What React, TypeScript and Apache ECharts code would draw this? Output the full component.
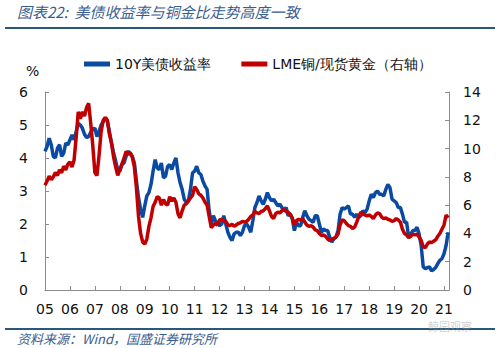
import React, { useEffect, useRef } from "react";
import * as echarts from "echarts";

const startYear = 2005;
const yearLabels = ["05", "06", "07", "08", "09", "10", "11", "12", "13", "14", "15", "16", "17", "18", "19", "20", "21"];

// 10Y US Treasury yield (%), monthly Jan 2005 - Mar 2021
const yieldValues = [
  4.2, 4.35, 4.6, 4.4, 4.05, 4.0, 4.3, 4.4, 4.05, 4.15, 4.45, 4.4,
  4.55, 4.7, 4.55, 4.8, 5.05, 5.0, 4.9, 4.72, 4.62, 4.65, 4.78, 4.88,
  4.9, 4.65, 4.8, 5.0, 5.1, 5.22, 5.12, 4.8, 4.45, 4.15, 3.9, 3.65,
  3.6, 3.8, 3.85, 4.05, 4.2, 4.15, 4.05, 3.85, 3.3, 2.8, 2.45, 2.2,
  2.55, 2.85, 2.95, 3.2, 3.6, 3.95, 3.7, 3.65, 3.85, 3.4, 3.45, 3.75,
  3.8, 3.65, 3.85, 4.0, 3.55, 3.25, 3.05, 2.75, 2.65, 2.7, 3.05, 3.55,
  3.6, 3.75, 3.55, 3.5, 3.3, 3.15, 3.05, 2.4, 2.0, 2.25, 2.1, 2.0,
  1.95, 2.0, 2.25, 2.0, 1.75, 1.6, 1.5, 1.7, 1.75, 1.75, 1.65, 1.75,
  1.95, 2.0, 1.9, 1.75, 2.1, 2.5, 2.65, 2.85, 2.7, 2.6, 2.75, 2.95,
  2.8, 2.7, 2.75, 2.65, 2.55, 2.6, 2.5, 2.4, 2.5, 2.25, 2.3, 2.15,
  1.8, 2.05, 1.95, 1.95, 2.2, 2.4, 2.25, 2.15, 2.1, 2.05, 2.25, 2.25,
  2.0, 1.75, 1.85, 1.8, 1.8, 1.6, 1.45, 1.55, 1.6, 1.8, 2.3, 2.5,
  2.45, 2.5, 2.55, 2.3, 2.3, 2.2, 2.3, 2.2, 2.25, 2.4, 2.35, 2.45,
  2.7, 2.9, 2.8, 2.95, 3.0, 2.9, 2.9, 2.85, 3.05, 3.2, 3.1, 2.75,
  2.7, 2.65, 2.5, 2.5, 2.3, 2.05, 2.05, 1.6, 1.7, 1.8, 1.8, 1.9,
  1.7, 1.35, 0.7, 0.65, 0.68, 0.7, 0.58, 0.62, 0.68, 0.8, 0.9, 0.95,
  1.1, 1.35, 1.75,
];

// LME copper / spot gold (right axis), monthly Jan 2005 - Mar 2021
const copperGoldValues = [
  7.4, 7.7, 8.05, 7.8, 8.0, 8.3, 8.1, 8.5, 8.3, 8.75, 8.5, 8.9,
  9.05, 8.7, 9.2, 10.8, 12.6, 12.1, 12.6, 12.3, 12.9, 13.2, 11.8, 10.2,
  8.3, 8.1, 9.5, 11.2, 12.0, 12.2, 12.0, 11.0, 10.4, 9.4, 8.7, 8.1,
  8.5, 8.9, 9.3, 9.8, 9.6, 9.7, 9.4, 8.7, 7.2, 5.2, 4.0, 3.4,
  3.25, 3.6, 4.5, 5.1, 5.9, 6.2, 6.6, 6.5, 6.0, 6.4, 6.1, 6.0,
  6.6, 6.3, 6.5, 6.2, 5.4, 5.1, 5.6, 6.0, 6.1, 6.3, 6.5, 6.7,
  7.3, 7.1, 6.8, 6.7, 6.5, 6.2, 6.0, 5.2, 4.4, 4.6, 4.7, 4.6,
  4.95, 5.0, 4.9, 4.85, 4.6, 4.55, 4.65, 4.5, 4.6, 4.7, 4.75, 4.85,
  4.8, 4.85, 5.0, 5.2, 5.3, 5.55, 5.45, 5.4, 5.55, 5.6, 5.75, 5.95,
  5.6, 5.2, 5.05, 5.4, 5.5, 5.45, 5.6, 5.7, 5.55, 5.5, 5.35, 5.1,
  4.6, 4.9, 5.0, 4.95, 5.05, 4.8, 4.6, 4.5, 4.55, 4.45, 4.25, 4.2,
  4.0, 3.85, 3.9, 3.8, 3.6, 3.5, 3.6, 3.65, 3.75, 3.95, 4.6, 4.95,
  4.9, 4.7, 4.55, 4.5, 4.35, 4.45, 4.8, 5.2, 5.5, 5.4, 5.3, 5.25,
  5.3, 5.2, 5.05, 5.3, 5.45, 5.4, 5.15, 5.05, 5.1, 5.0, 4.95, 4.85,
  4.9, 5.05, 4.95, 4.8, 4.3, 4.0, 3.9, 3.7, 3.8, 3.95, 3.9, 3.95,
  3.75, 3.5, 3.05, 3.0, 3.25, 3.4, 3.35, 3.45, 3.55, 3.8, 4.0, 4.3,
  4.6, 5.3, 5.1,
];

const leftTicks = { min: 0, max: 6, interval: 1 };
const rightTicks = { min: 0, max: 14, interval: 2 };

const seriesNames = ["10Y美债收益率", "LME铜/现货黄金（右轴）"];

export default function App() {
  const ref = useRef<HTMLDivElement>(null);
  useEffect(() => {
    if (!ref.current) return;
    const chart = echarts.init(ref.current, null, { renderer: "svg" });
    const toPairs = (vals: number[]) => vals.map((v, i) => [startYear + i / 12, v]);
    const axisColor = "#8c8c8c";
    const labelFont = "DejaVu Sans";
    chart.setOption({
      animation: false,
      backgroundColor: "#ffffff",
      grid: { left: 45, right: 51, top: 92, bottom: 58, containLabel: false },
      legend: {
        left: 79,
        top: 52,
        itemWidth: 26,
        itemHeight: 5,
        itemGap: 30,
        icon: "rect",
        textStyle: { fontSize: 14, color: "#111", fontFamily: labelFont },
        data: seriesNames,
      },
      xAxis: {
        type: "value",
        min: startYear,
        max: 2021.2,
        interval: 1,
        splitLine: { show: false },
        axisLine: { show: true, lineStyle: { color: axisColor, width: 1 } },
        axisTick: { show: true, inside: true, length: 4, lineStyle: { color: axisColor } },
        axisLabel: {
          fontSize: 14,
          color: "#111",
          fontFamily: labelFont,
          margin: 12,
          showMaxLabel: false,
          formatter: (v: number) => {
            const idx = Math.round(v) - startYear;
            return Math.abs(v - Math.round(v)) < 1e-6 ? yearLabels[idx] ?? "" : "";
          },
        },
      },
      yAxis: [
        {
          type: "value",
          ...leftTicks,
          splitLine: { show: false },
          axisLine: { show: true, lineStyle: { color: axisColor } },
          axisTick: { show: true, inside: true, length: 4, lineStyle: { color: axisColor } },
          axisLabel: { fontSize: 14, color: "#111", fontFamily: labelFont, margin: 17 },
        },
        {
          type: "value",
          ...rightTicks,
          position: "right",
          splitLine: { show: false },
          axisLine: { show: true, lineStyle: { color: axisColor } },
          axisTick: { show: true, inside: true, length: 4, lineStyle: { color: axisColor } },
          axisLabel: { fontSize: 14, color: "#111", fontFamily: labelFont, margin: 14 },
        },
      ],
      series: [
        {
          name: seriesNames[0],
          type: "line",
          yAxisIndex: 0,
          data: toPairs(yieldValues),
          showSymbol: false,
          symbol: "none",
          lineStyle: { color: "#0b4aa2", width: 3.5 },
          itemStyle: { color: "#0b4aa2" },
        },
        {
          name: seriesNames[1],
          type: "line",
          yAxisIndex: 1,
          data: toPairs(copperGoldValues),
          showSymbol: false,
          symbol: "none",
          lineStyle: { color: "#c00000", width: 3.5 },
          itemStyle: { color: "#c00000" },
        },
      ],
      graphic: [
        {
          type: "text",
          left: 17,
          top: 4,
          style: {
            text: "图表22:  美债收益率与铜金比走势高度一致",
            fontSize: 15,
            fontStyle: "italic",
            fontFamily: "Noto Sans CJK SC",
            fill: "#3a5d8f",
          },
        },
        {
          type: "line",
          shape: { x1: 5, y1: 28, x2: 495, y2: 28 },
          style: { stroke: "#2b5878", lineWidth: 2 },
        },
        {
          type: "text",
          left: 26,
          top: 64,
          style: { text: "%", fontSize: 14, fontFamily: labelFont, fill: "#111" },
        },
        {
          type: "line",
          shape: { x1: 5, y1: 329, x2: 495, y2: 329 },
          style: { stroke: "#2b5878", lineWidth: 2 },
        },
        {
          type: "text",
          left: 17,
          top: 332,
          style: {
            text: "资料来源：Wind，国盛证券研究所",
            fontSize: 13,
            fontStyle: "italic",
            fontFamily: "Noto Sans CJK SC",
            fill: "#3a5d8f",
          },
        },
        {
          type: "text",
          left: 428,
          top: 320,
          style: {
            text: "鲸园观察",
            fontSize: 11,
            fontFamily: "Noto Sans CJK SC",
            fill: "rgba(150,150,150,0.45)",
          },
        },
      ],
    });
    return () => chart.dispose();
  }, []);
  return <div ref={ref} style={{ width: 500, height: 348, position: "absolute", left: 0, top: 0 }} />;
}
